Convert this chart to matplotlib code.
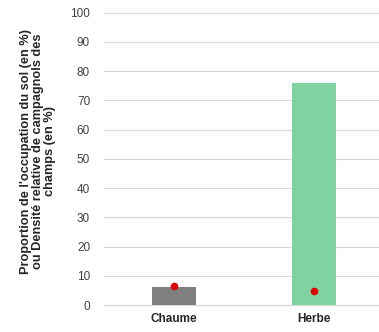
import matplotlib
matplotlib.use("Agg")
import matplotlib.pyplot as plt

categories = ["Chaume", "Herbe"]
occupation = [6.2, 76.0]
densite = [6.6, 4.7]
bar_colors = ["#7f7f7f", "#7fd3a1"]
yticks = [0, 10, 20, 30, 40, 50, 60, 70, 80, 90, 100]

plt.rcParams['font.family'] = ['Liberation Sans', 'DejaVu Sans']

fig = plt.figure(figsize=(3.79, 3.32), dpi=100)
ax = fig.add_axes([104/379, 1-305/332, 275/379, 292.3/332])

x = list(range(len(categories)))
ax.bar(x, occupation, width=0.314, color=bar_colors, zorder=2)
ax.scatter(x, densite, s=30, color="#e00000", zorder=3, linewidths=0)

ax.set_ylim(0, 100)
ax.set_xlim(-0.5, 1.464)
ax.set_yticks(yticks)
ax.set_yticklabels([str(t) for t in yticks], fontsize=8.5, color="#404040")
ax.set_xticks(x)
ax.set_xticklabels(categories, fontsize=8.5, fontweight="bold", color="#262626")
ax.tick_params(axis="both", length=0)
ax.tick_params(axis="y", pad=10)
ax.tick_params(axis="x", pad=6)
ax.grid(axis="y", color="#d9d9d9", lw=0.9, zorder=0)
for s in ax.spines.values():
    s.set_visible(False)
for gl in ax.get_ygridlines():
    gl.set_clip_on(False)

fig.text(38/379, 1-151/332,
         "Proportion de l'occupation du sol (en %)\nou Densité relative de campagnols des\nchamps (en %)",
         rotation=90, ha="center", va="center", multialignment="center",
         fontsize=9.2, fontweight="bold", color="#262626", linespacing=1.0)

fig.savefig("out.png", dpi=100, facecolor="white")
